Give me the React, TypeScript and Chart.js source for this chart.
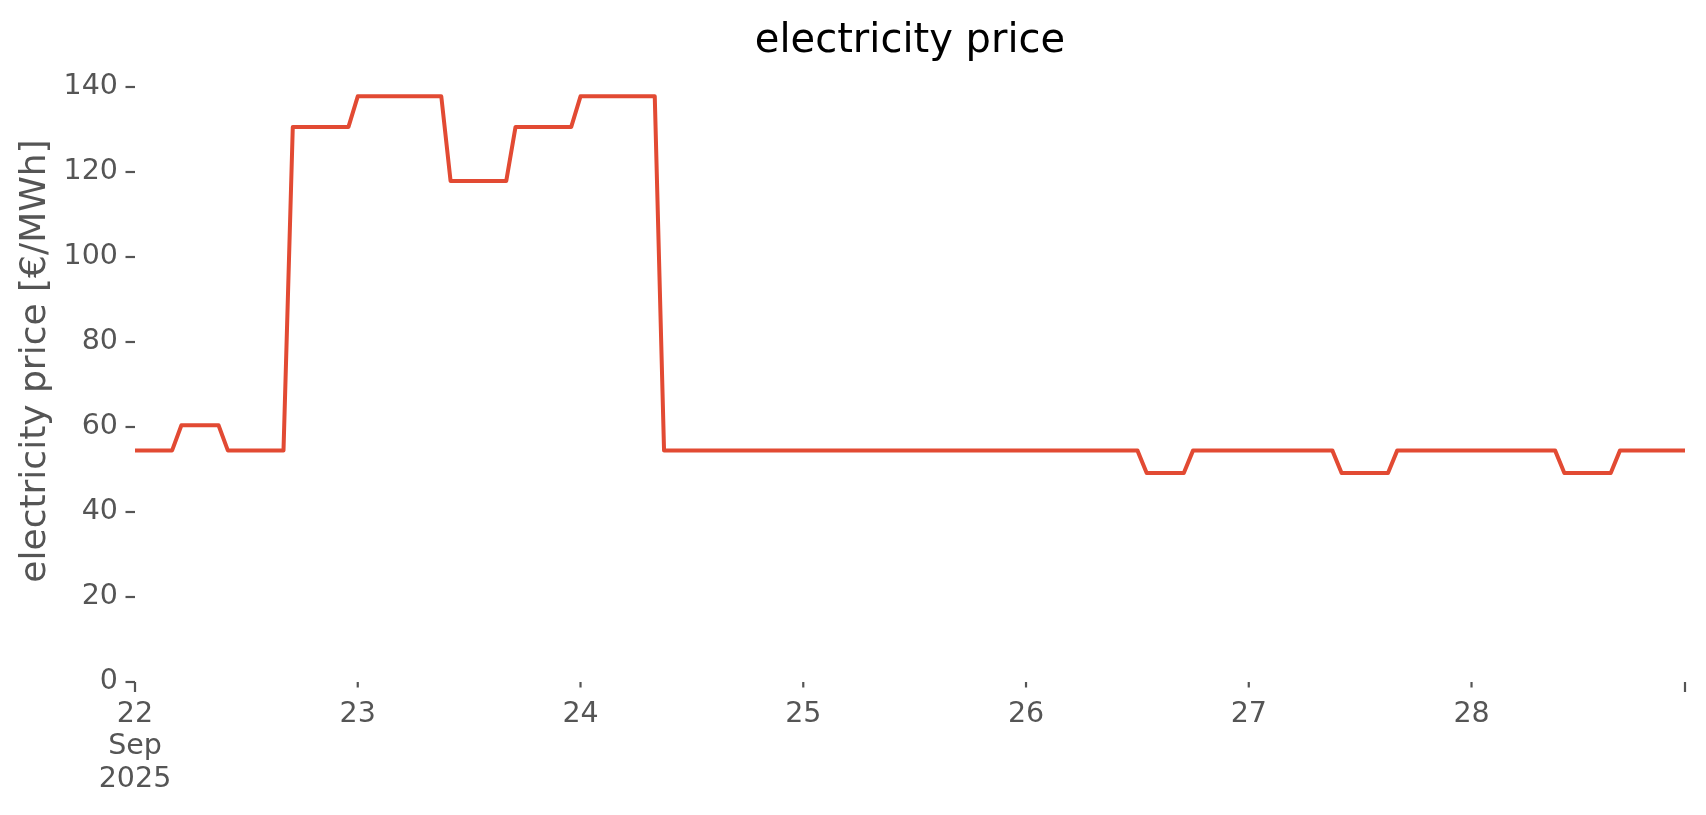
import React, { useEffect, useRef } from 'react';
import { Chart, registerables } from 'chart.js';

Chart.register(...registerables);

// Hourly electricity prices [€/MWh], 22 Sep 2025 00:00 – 28 Sep 2025 23:00
const day22 = [54.5, 54.5, 54.5, 54.5, 54.5, 60.4, 60.4, 60.4, 60.4, 60.4, 54.5, 54.5, 54.5, 54.5, 54.5, 54.5, 54.5, 130.6, 130.6, 130.6, 130.6, 130.6, 130.6, 130.6];
const day23 = [137.8, 137.8, 137.8, 137.8, 137.8, 137.8, 137.8, 137.8, 137.8, 137.8, 117.9, 117.9, 117.9, 117.9, 117.9, 117.9, 117.9, 130.6, 130.6, 130.6, 130.6, 130.6, 130.6, 130.6];
const day24 = [137.8, 137.8, 137.8, 137.8, 137.8, 137.8, 137.8, 137.8, 137.8, 54.5, 54.5, 54.5, 54.5, 54.5, 54.5, 54.5, 54.5, 54.5, 54.5, 54.5, 54.5, 54.5, 54.5, 54.5];
const day25 = [54.5, 54.5, 54.5, 54.5, 54.5, 54.5, 54.5, 54.5, 54.5, 54.5, 54.5, 54.5, 54.5, 54.5, 54.5, 54.5, 54.5, 54.5, 54.5, 54.5, 54.5, 54.5, 54.5, 54.5];
const day26 = [54.5, 54.5, 54.5, 54.5, 54.5, 54.5, 54.5, 54.5, 54.5, 54.5, 54.5, 54.5, 54.5, 49.2, 49.2, 49.2, 49.2, 49.2, 54.5, 54.5, 54.5, 54.5, 54.5, 54.5];
const day27 = [54.5, 54.5, 54.5, 54.5, 54.5, 54.5, 54.5, 54.5, 54.5, 54.5, 49.2, 49.2, 49.2, 49.2, 49.2, 49.2, 54.5, 54.5, 54.5, 54.5, 54.5, 54.5, 54.5, 54.5];
const day28 = [54.5, 54.5, 54.5, 54.5, 54.5, 54.5, 54.5, 54.5, 54.5, 54.5, 49.2, 49.2, 49.2, 49.2, 49.2, 49.2, 54.5, 54.5, 54.5, 54.5, 54.5, 54.5, 54.5, 54.5];

const prices = [...day22, ...day23, ...day24, ...day25, ...day26, ...day27, ...day28];

// x tick positions (hours since 22 Sep 00:00) and their labels
const tickHours = [0, 24, 48, 72, 96, 120, 144, 167];
const tickLabels: (string | string[])[] = [['22', 'Sep', '2025'], '23', '24', '25', '26', '27', '28', ''];
const majorTicks = [true, false, false, false, false, false, false, true];

const yTicks = [0, 20, 40, 60, 80, 100, 120, 140];

const TITLE = 'electricity price';
const Y_TITLE = 'electricity price [€/MWh]';
const LINE_COLOR = '#E24A33';
const TEXT_GRAY = '#555555';
const FONT = '"DejaVu Sans", sans-serif';

const overlay = {
  id: 'overlay',
  afterDraw(chart: any) {
    const { ctx, chartArea, scales } = chart;
    ctx.save();
    // title
    ctx.fillStyle = '#000000';
    ctx.font = `40px ${FONT}`;
    ctx.textAlign = 'center';
    ctx.textBaseline = 'alphabetic';
    ctx.fillText(TITLE, (chartArea.left + chartArea.right) / 2, 52);

    // y-axis title
    ctx.save();
    ctx.fillStyle = TEXT_GRAY;
    ctx.font = `36px ${FONT}`;
    ctx.translate(36, 361);
    ctx.rotate(-Math.PI / 2);
    ctx.textAlign = 'center';
    ctx.textBaseline = 'middle';
    ctx.fillText(Y_TITLE, 0, 0);
    ctx.restore();

    ctx.strokeStyle = TEXT_GRAY;
    ctx.lineWidth = 2.2;
    // x tick marks
    const xs = scales.x;
    xs.ticks.forEach((t: any) => {
      const px = xs.getPixelForValue(t.value);
      const len = t.major ? 10 : 5.5;
      ctx.beginPath();
      ctx.moveTo(px, chartArea.bottom);
      ctx.lineTo(px, chartArea.bottom + len);
      ctx.stroke();
    });
    // y tick marks
    const ys = scales.y;
    ys.ticks.forEach((t: any) => {
      const py = ys.getPixelForValue(t.value);
      ctx.beginPath();
      ctx.moveTo(chartArea.left - 9.5, py);
      ctx.lineTo(chartArea.left, py);
      ctx.stroke();
    });
    ctx.restore();
  },
};

export default function App() {
  const ref = useRef<HTMLCanvasElement | null>(null);

  useEffect(() => {
    if (!ref.current) return;
    const chart = new Chart(ref.current, {
      type: 'line',
      data: {
        datasets: [
          {
            data: prices.map((p, i) => ({ x: i, y: p })),
            borderColor: LINE_COLOR,
            borderWidth: 4,
            pointRadius: 0,
            tension: 0,
            fill: false,
            borderJoinStyle: 'round',
            borderCapStyle: 'square',
          },
        ],
      },
      options: {
        responsive: false,
        animation: false,
        devicePixelRatio: 1,
        layout: { padding: { left: 0, right: 21, top: 87, bottom: 0 } },
        plugins: {
          legend: { display: false },
          title: { display: false },
          tooltip: { enabled: false },
        },
        scales: {
          x: {
            type: 'linear',
            min: 0,
            max: 167,
            afterBuildTicks: (s: any) => {
              s.ticks = tickHours.map((v, i) => ({ value: v, major: majorTicks[i] }));
            },
            afterFit: (s: any) => {
              s.height = 815 - 682;
            },
            ticks: {
              autoSkip: false,
              maxRotation: 0,
              minRotation: 0,
              color: TEXT_GRAY,
              font: { family: FONT, size: 28.5, lineHeight: 1.14 },
              padding: 16,
              callback: (_v: any, i: number) => tickLabels[i],
            },
            grid: { display: false, drawTicks: false },
            border: { display: false },
          },
          y: {
            min: 0,
            max: 140,
            afterBuildTicks: (s: any) => {
              s.ticks = yTicks.map((v) => ({ value: v }));
            },
            afterFit: (s: any) => {
              s.width = 135;
            },
            ticks: {
              color: TEXT_GRAY,
              font: { family: FONT, size: 28.5 },
              padding: 17,
            },
            grid: { display: false, drawTicks: false },
            border: { display: false },
            title: { display: false },
          },
        },
      },
      plugins: [overlay],
    });
    return () => chart.destroy();
  }, []);

  return (
    <div style={{ position: 'fixed', left: 0, top: 0, width: 1706, height: 815, background: '#fff' }}>
      <canvas ref={ref} width={1706} height={815} style={{ display: 'block', width: 1706, height: 815 }} />
    </div>
  );
}
